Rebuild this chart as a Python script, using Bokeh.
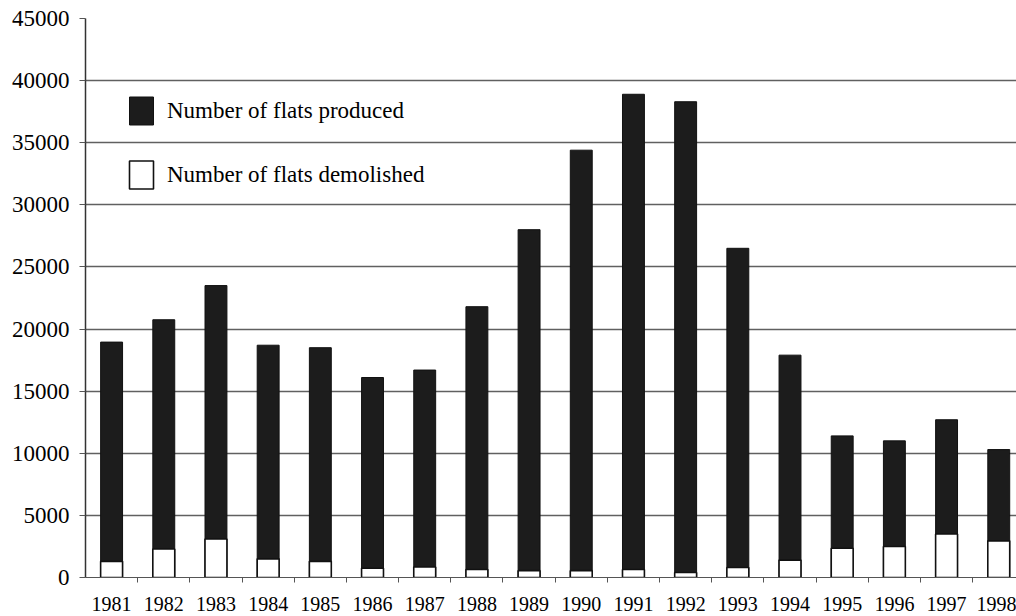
import numpy as np
from bokeh.plotting import figure
from bokeh.models import (ColumnDataSource, Range1d, FixedTicker, Legend, LegendItem)
from bokeh.embed import file_html
from bokeh.resources import INLINE

years = ["1981", "1982", "1983", "1984", "1985", "1986", "1987", "1988", "1989",
         "1990", "1991", "1992", "1993", "1994", "1995", "1996", "1997", "1998"]
produced = [18950, 20750, 23500, 18700, 18500, 16100, 16700, 21800, 28000,
            34400, 38900, 38300, 26500, 17900, 11400, 11000, 12700, 10300]
demolished = [1300, 2300, 3100, 1500, 1300, 750, 850, 650, 550,
              550, 650, 400, 800, 1400, 2350, 2500, 3500, 2950]
y_ticks = [0, 5000, 10000, 15000, 20000, 25000, 30000, 35000, 40000, 45000]

idx = list(range(len(years)))
src = ColumnDataSource(dict(x=idx, produced=produced, demolished=demolished))

FONT = "Liberation Serif"

p = figure(width=1016, height=616, output_backend="svg", toolbar_location=None,
           x_range=Range1d(-0.5, 17.34), y_range=Range1d(0, 45000),
           min_border_left=85, min_border_right=0, min_border_top=18,
           min_border_bottom=39)
p.outline_line_color = None
p.background_fill_color = "white"
p.border_fill_color = "white"

r_prod = p.vbar(x="x", top="produced", bottom=0, width=0.42, source=src,
                fill_color="#1c1c1c", line_color="#111111", line_width=1)
r_dem = p.vbar(x="x", top="demolished", bottom=0, width=0.42, source=src,
               fill_color="white", line_color="#111111", line_width=1.6)

# y axis
p.yaxis.ticker = FixedTicker(ticks=y_ticks)
p.yaxis.major_label_text_font = FONT
p.yaxis.major_label_text_font_size = "23px"
p.yaxis.major_label_text_color = "black"
p.yaxis.major_tick_out = 6
p.yaxis.major_tick_in = 0
p.yaxis.major_tick_line_color = "#555555"
p.yaxis.minor_tick_line_color = None
p.yaxis.axis_line_color = "#333333"
p.yaxis.axis_line_width = 1.5
p.yaxis.major_label_standoff = 10

# x axis: labels at centers, ticks at category boundaries
p.xaxis.ticker = FixedTicker(ticks=idx, minor_ticks=[i + 0.5 for i in idx])
p.xaxis.major_label_overrides = {i: y for i, y in zip(idx, years)}
p.xaxis.major_label_text_font = FONT
p.xaxis.major_label_text_font_size = "20px"
p.xaxis.major_label_text_color = "black"
p.xaxis.major_tick_line_color = None
p.xaxis.major_tick_out = 0
p.xaxis.major_tick_in = 0
p.xaxis.minor_tick_out = 5
p.xaxis.minor_tick_in = 0
p.xaxis.minor_tick_line_color = "#555555"
p.xaxis.axis_line_color = "#555555"
p.xaxis.axis_line_width = 1.2
p.xaxis.major_label_standoff = 14

p.xgrid.grid_line_color = None
p.ygrid.grid_line_color = "#606060"
p.ygrid.grid_line_width = 1.3

legend = Legend(items=[LegendItem(label="Number of flats produced", renderers=[r_prod]),
                       LegendItem(label="Number of flats demolished", renderers=[r_dem])],
                location=(41, 385), orientation="vertical")
legend.border_line_color = None
legend.background_fill_alpha = 0
legend.label_text_font = FONT
legend.label_text_font_size = "23px"
legend.label_text_color = "black"
legend.glyph_width = 30
legend.glyph_height = 35
legend.spacing = 29
legend.label_standoff = 11
legend.padding = 0
legend.margin = 0
p.add_layout(legend, "center")

open("out.html", "w").write(file_html(p, INLINE))
